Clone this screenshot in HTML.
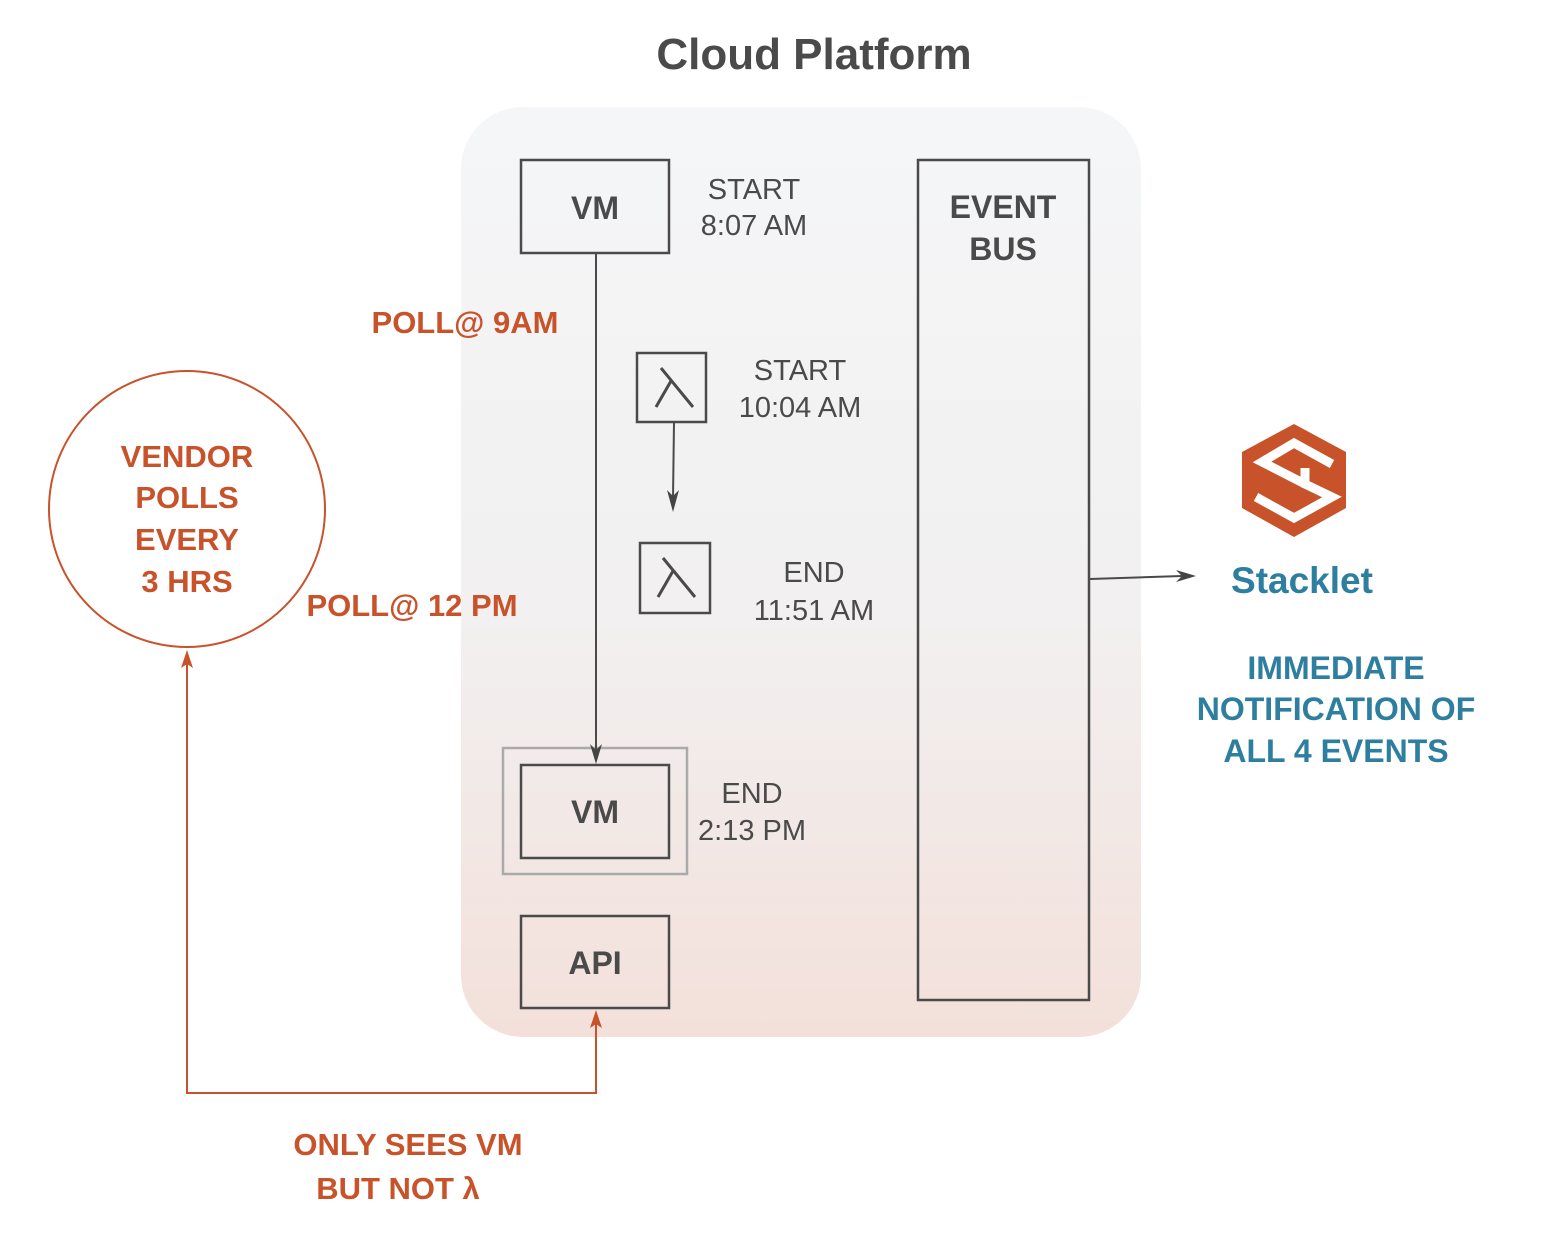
<!DOCTYPE html>
<html><head><meta charset="utf-8"><style>
body{margin:0;background:#fff;}
svg{display:block;font-family:"Liberation Sans",sans-serif;}
</style></head><body>
<svg width="1550" height="1240" viewBox="0 0 1550 1240">
<defs>
<linearGradient id="g" x1="0" y1="0" x2="0" y2="1">
<stop offset="0" stop-color="#f5f6f8"/><stop offset="0.55" stop-color="#f2f0f0"/><stop offset="1" stop-color="#f3e0da"/>
</linearGradient>
</defs>
<text x="814" y="69" text-anchor="middle" font-size="44" font-weight="bold" fill="#4a4a4a">Cloud Platform</text>
<rect x="461" y="107" width="680" height="930" rx="62" fill="url(#g)"/>
<g fill="none" stroke="#4a4a4a" stroke-width="2.5">
<rect x="521" y="160" width="148" height="93"/>
<rect x="918" y="160" width="171" height="840"/>
<rect x="637" y="353" width="69" height="69"/>
<rect x="640" y="543" width="70" height="70"/>
<rect x="521" y="765" width="148" height="93"/>
<rect x="521" y="916" width="148" height="92"/>
<rect x="503" y="748" width="184" height="126" stroke="#aaa"/>
<path d="M661,368 L693,407 M671,381 L656,407" stroke-width="3"/>
<path d="M663,558 L695,597 M673,571 L658,597" stroke-width="3"/>
<path d="M596,253 V750" stroke-width="2"/>
<path d="M674,422 L673,498" stroke-width="2"/>
<path d="M1090,579 L1182,576" stroke-width="2"/>
</g>
<g fill="#444">
<path d="M590,744 L596,764 L602,744 L596,750Z"/>
<path d="M667,490 L673,512 L679,490 L673,496Z"/>
<path d="M1176,570 L1196,576 L1176,582 L1182,576Z"/>
</g>
<g fill="#4a4a4a" text-anchor="middle">
<text x="595" y="219" font-size="32" font-weight="bold">VM</text>
<text x="595" y="823" font-size="32" font-weight="bold">VM</text>
<text x="595" y="974" font-size="32" font-weight="bold">API</text>
<text x="1003" y="218" font-size="32" font-weight="bold">EVENT</text>
<text x="1003" y="260" font-size="32" font-weight="bold">BUS</text>
<g font-size="29">
<text x="754" y="199">START</text><text x="754" y="235">8:07 AM</text>
<text x="800" y="380">START</text><text x="800" y="417">10:04 AM</text>
<text x="814" y="582">END</text><text x="814" y="620">11:51 AM</text>
<text x="752" y="803">END</text><text x="752" y="840">2:13 PM</text>
</g>
</g>
<circle cx="187" cy="509" r="138" fill="none" stroke="#c8522a" stroke-width="2"/>
<g fill="#c8522a" font-weight="bold" font-size="31" text-anchor="middle">
<text x="187" y="467">VENDOR</text><text x="187" y="508">POLLS</text><text x="187" y="550">EVERY</text><text x="187" y="592">3 HRS</text>
<text x="465" y="333">POLL@ 9AM</text>
<text x="412" y="616">POLL@ 12 PM</text>
<text x="408" y="1155">ONLY SEES VM</text>
<text x="398" y="1199">BUT NOT λ</text>
</g>
<path d="M187,660 V1093 H596 V1020" fill="none" stroke="#c8522a" stroke-width="2"/>
<path d="M181,668 L187,650 L193,668 L187,664Z M590,1028 L596,1010 L602,1028 L596,1024Z" fill="#c8522a"/>
<polygon points="1294,424 1346,452 1346,508 1294,537 1242,508 1242,452" fill="#c8522a"/>
<polyline points="1332,464 1294,443 1262,462 1305,484" fill="none" stroke="#fff" stroke-width="9"/>
<polyline points="1256,497 1294,518 1332,497 1305,484 1305,468" fill="none" stroke="#fff" stroke-width="9"/>
<g fill="#2e7ea0" font-weight="bold" text-anchor="middle">
<text x="1302" y="593" font-size="37">Stacklet</text>
<g font-size="32"><text x="1336" y="679">IMMEDIATE</text><text x="1336" y="720">NOTIFICATION OF</text><text x="1336" y="762">ALL 4 EVENTS</text></g>
</g>
</svg>
</body></html>
